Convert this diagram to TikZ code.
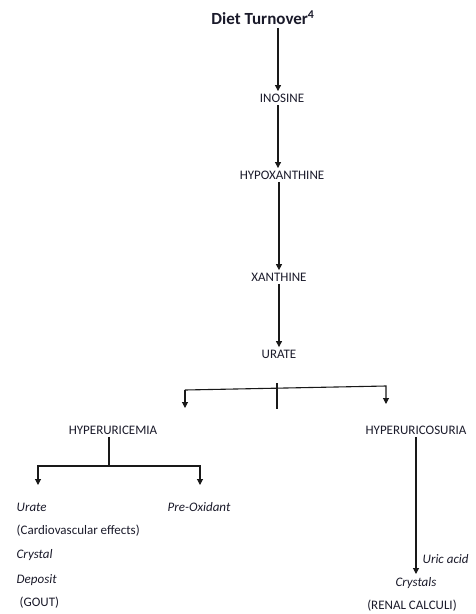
\documentclass[tikz,border=0pt]{standalone}
\usepackage{fontspec}
\setmainfont{Carlito}
\usetikzlibrary{arrows.meta}
\definecolor{txt}{HTML}{1A1A2A}
\tikzset{
  lbl/.style={inner sep=2.5pt, text=txt, font=\fontsize{13}{15}\selectfont},
  itl/.style={lbl, font=\fontsize{13}{15}\selectfont\itshape},
  ln/.style={line width=1.1pt, draw=black!90},
  arr/.style={ln, -{Triangle[length=6pt,width=6pt]}}
}
\begin{document}
\begin{tikzpicture}[x=1pt,y=-1pt]
\useasboundingbox (0,0) rectangle (476,614);
\node[lbl, font=\fontsize{17}{19}\bfseries\selectfont] (diet) at (263,18) {Diet Turnover\textsuperscript{4}};
\node[lbl] (inosine) at (282,98) {INOSINE};
\node[lbl] (hypo) at (282,175) {HYPOXANTHINE};
\node[lbl] (xan) at (279,277) {XANTHINE};
\node[lbl] (urate) at (279,354) {URATE};
\node[lbl] (hcem) at (113,430) {HYPERURICEMIA};
\node[lbl] (hsur) at (416,430) {HYPERURICOSURIA};
\node[itl, anchor=west] (u1) at (14,507) {Urate};
\node[itl, anchor=west] (pre) at (165,507) {Pre-Oxidant};
\node[lbl, anchor=west] (cv) at (14,531) {(Cardiovascular effects)};
\node[itl, anchor=west] (cr) at (14,555) {Crystal};
\node[itl, anchor=west] (dep) at (14,580) {Deposit};
\node[lbl, anchor=west] (gout) at (17,603) {(GOUT)};
\node[itl, anchor=west] (uric) at (420,559) {Uric acid};
\node[itl] (crys) at (416,583) {Crystals};
\node[lbl] (renal) at (412,606) {(RENAL CALCULI)};

\draw[arr] (diet.south -| 278,0) -- (inosine.north -| 278,0);
\draw[arr] (inosine.south -| 278,0) -- (hypo.north -| 278,0);
\draw[arr] (hypo.south -| 279,0) -- (xan.north -| 279,0);
\draw[arr] (xan.south -| 279,0) -- (urate.north -| 279,0);

\coordinate (sl) at (185,390);
\coordinate (sr) at (386,386);
\draw[ln] (277,383) -- (277,409);
\draw[arr] (sl) -- (sr) -- (sr |- 0,404);
\draw[arr] (sl) -- (185,408);

\coordinate (hj) at (109,466);
\draw[ln] (hcem.south -| hj) -- (hj);
\coordinate (hl) at (38,466);
\coordinate (hr) at (200,466);
\draw[arr] (hj) -- (hl) -- (38,485);
\draw[arr] (hj) -- (hr) -- (200,485);

\draw[arr] (hsur.south) -- (416,574);
\end{tikzpicture}
\end{document}
